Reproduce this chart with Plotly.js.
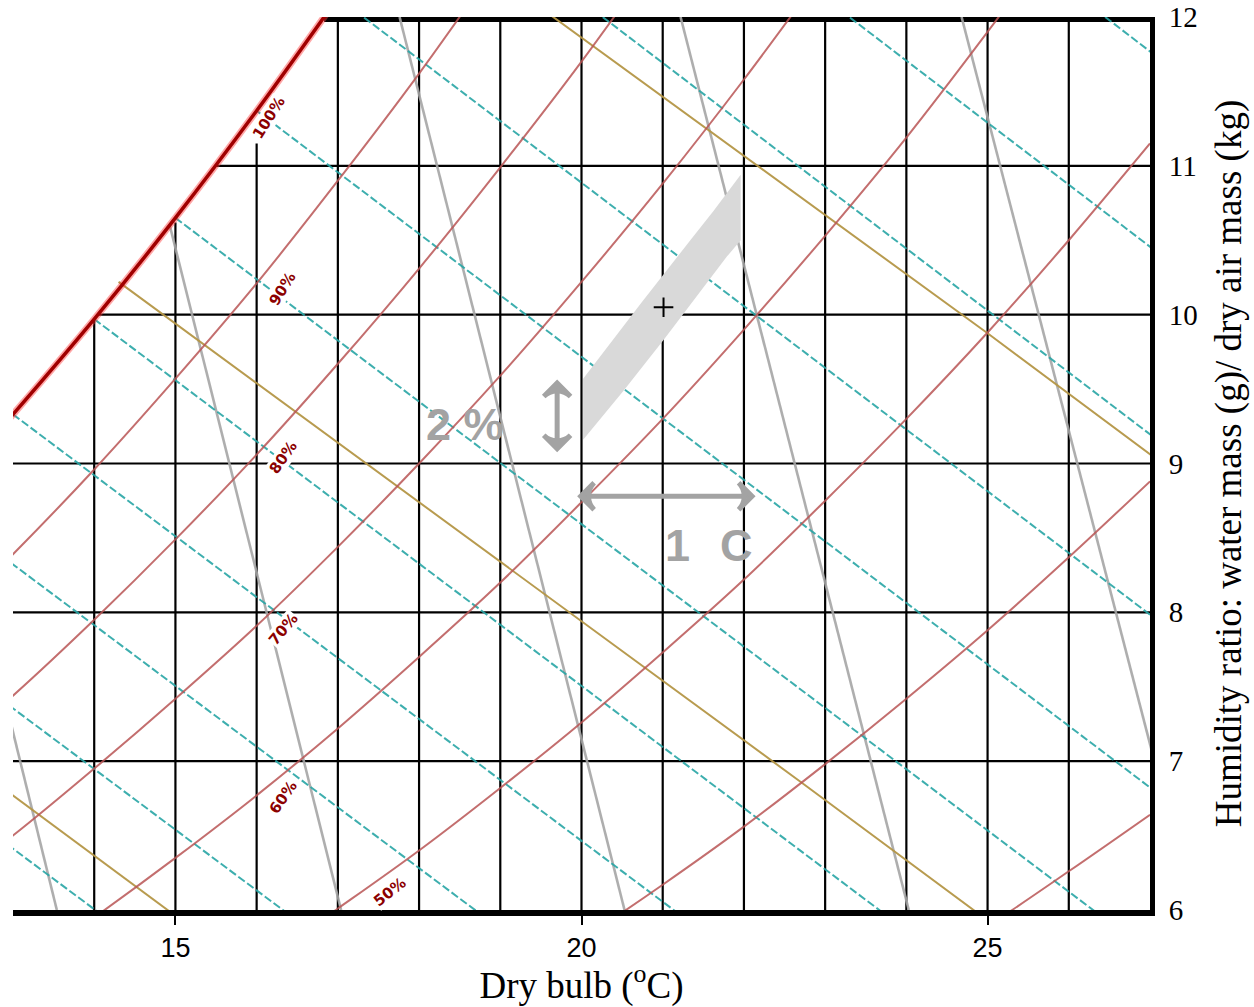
<!DOCTYPE html>
<html>
<head>
<meta charset="utf-8">
<script src="https://cdn.plot.ly/plotly-3.0.1.min.js"></script>
<style>html,body{margin:0;padding:0;background:#fff;}#chart{width:1254px;height:1007px;}</style>
</head>
<body>
<div id="chart"></div>
<script>
// ---- axis ticks ----
const T_TICKS = [15, 20, 25];
const W_TICKS = [6, 7, 8, 9, 10, 11, 12];

// ---- black grid (clipped at the saturation curve) ----
const GRID_V_T   = [14, 15, 16, 17, 18, 19, 20, 21, 22, 23, 24, 25, 26];
const GRID_V_TOP = [9.97, 10.62, 11.15, 12, 12, 12, 12, 12, 12, 12, 12, 12, 12];
const GRID_H_W     = [7, 8, 9, 10, 11];
const GRID_H_START = [13, 13, 13, 14.04, 15.49];
const TOP_EDGE_T = [16.83, 27];

// ---- saturation curve (100 %) ----
const SAT_T = [12.5, 13, 14, 15, 16, 17];
const SAT_W = [9.02, 9.33, 9.97, 10.65, 11.37, 12.13];

// ---- relative humidity curves ----
const RH90_T = [12, 13, 14, 15, 16, 17, 18, 19];
const RH90_W = [7.85, 8.39, 8.96, 9.57, 10.21, 10.90, 11.62, 12.39];
const RH80_T = [12, 13, 14, 15, 16, 17, 18, 19, 20, 21];
const RH80_W = [6.97, 7.44, 7.95, 8.49, 9.06, 9.67, 10.31, 10.99, 11.70, 12.46];
const RH70_T = [12, 13, 14, 15, 16, 17, 18, 19, 20, 21, 22, 23];
const RH70_W = [6.09, 6.50, 6.95, 7.42, 7.91, 8.44, 9.00, 9.59, 10.22, 10.88, 11.58, 12.32];
const RH60_T = [13, 14, 15, 16, 17, 18, 19, 20, 21, 22, 23, 24, 25, 26];
const RH60_W = [5.57, 5.95, 6.35, 6.77, 7.22, 7.70, 8.20, 8.74, 9.30, 9.90, 10.53, 11.19, 11.90, 12.64];
const RH50_T = [16, 17, 18, 19, 20, 21, 22, 23, 24, 25, 26, 27];
const RH50_W = [5.63, 6.01, 6.40, 6.82, 7.26, 7.73, 8.22, 8.75, 9.30, 9.88, 10.50, 11.15];
const RH40_T = [19, 20, 21, 22, 23, 24, 25, 26, 27];
const RH40_W = [5.45, 5.80, 6.17, 6.56, 6.98, 7.42, 7.88, 8.37, 8.88];
const RH30_T = [24, 25, 26, 27];
const RH30_W = [5.55, 5.89, 6.26, 6.64];

// ---- wet-bulb lines (cyan dashed), start on saturation, end at T=28 ----
const WB_T0 = [10, 11, 12, 13, 14, 15, 16, 17, 18, 19, 20];
const WB_W0 = [7.63, 8.17, 8.73, 9.33, 9.97, 10.65, 11.37, 12.13, 12.94, 13.79, 14.70];
const WB_T1 = [28, 28, 28, 28, 28, 28, 28, 28, 28, 28, 28];
const WB_W1 = [0.32, 1.24, 2.20, 3.19, 4.22, 5.30, 6.41, 7.57, 8.78, 10.04, 11.35];

// ---- enthalpy lines (olive) ----
const H30_T = [12.8, 15.2];
const H30_W = [6.85, 5.88];
const H40_T = [14.30, 22.70, 25.0];
const H40_W = [10.22, 6.86, 5.93];
const H50_T = [19.5, 22.70, 25.0, 27.2];
const H50_W = [12.06, 10.79, 9.875, 8.98];

// ---- specific volume lines (grey) ----
const V_BOT_T = [13.54, 17.04, 20.53, 24.03, 27.53];
const V_BOT_W = [6, 6, 6, 6, 6];
const V_TOP_T = [10.83, 14.93, 17.76, 21.22, 24.68];
const V_TOP_W = [12, 10.60, 12, 12, 12];

// ---- comfort zone (grey band) and design point ----
const ZONE_T = [20.02, 20.73, 21.34, 21.63, 21.96, 21.96, 21.79, 21.47, 21.01, 20.52, 20.02];
const ZONE_W = [9.57, 10.075, 10.50, 10.70, 10.94, 10.50, 10.39, 10.16, 9.83, 9.49, 9.16];
const POINT_T = [21.01];
const POINT_W = [10.05];

// ---- scale arrows ----
const ARROW_V_T = [19.70, 19.70];
const ARROW_V_W = [9.10, 9.54];
const ARROW_H_T = [19.99, 22.10];
const ARROW_H_W = [8.78, 8.78];

// ---- RH labels ----
const RH_LABELS = ['100%', '90%', '80%', '70%', '60%', '50%'];
const RH_LABEL_T = [16.15, 16.32, 16.32, 16.33, 16.33, 17.64];
const RH_LABEL_W = [11.32, 10.17, 9.04, 7.89, 6.76, 6.12];
const RH_LABEL_ANGLE = [-58, -58, -55, -50, -55, -38];

// ---- helper to join segments ----
function segs(xs0, ys0, xs1, ys1) {
  const x = [], y = [];
  for (let i = 0; i < xs0.length; i++) {
    x.push(xs0[i], xs1[i], null);
    y.push(ys0[i], ys1[i], null);
  }
  return {x, y};
}

const traces = [];
const noHover = {hoverinfo: 'skip', showlegend: false, mode: 'lines', type: 'scatter'};

// black grid
const gv = segs(GRID_V_T, GRID_V_T.map(() => 6), GRID_V_T, GRID_V_TOP);
traces.push(Object.assign({x: gv.x, y: gv.y, line: {color: '#000', width: 2.2}}, noHover));
const gh = segs(GRID_H_START, GRID_H_W, GRID_H_START.map(() => 27), GRID_H_W);
traces.push(Object.assign({x: gh.x, y: gh.y, line: {color: '#000', width: 2.2}}, noHover));
traces.push(Object.assign({x: TOP_EDGE_T, y: [12, 12], line: {color: '#000', width: 10}}, noHover));

// specific volume (grey)
const vv = segs(V_BOT_T, V_BOT_W, V_TOP_T, V_TOP_W);
traces.push(Object.assign({x: vv.x, y: vv.y, line: {color: 'rgba(165,165,165,0.9)', width: 2.6}}, noHover));

// wet bulb (cyan dashed)
const wb = segs(WB_T0, WB_W0, WB_T1, WB_W1);
traces.push(Object.assign({x: wb.x, y: wb.y, line: {color: 'rgba(40,165,165,0.9)', width: 2, dash: '8px,3px'}}, noHover));

// enthalpy (olive)
[[H30_T, H30_W], [H40_T, H40_W], [H50_T, H50_W]].forEach(p => {
  traces.push(Object.assign({x: p[0], y: p[1], line: {color: 'rgba(180,150,70,0.95)', width: 2}}, noHover));
});

// RH curves
[[RH90_T, RH90_W], [RH80_T, RH80_W], [RH70_T, RH70_W], [RH60_T, RH60_W],
 [RH50_T, RH50_W], [RH40_T, RH40_W], [RH30_T, RH30_W]].forEach(p => {
  traces.push(Object.assign({x: p[0], y: p[1], line: {color: 'rgba(185,85,85,0.85)', width: 2, shape: 'spline'}}, noHover));
});

// saturation curve
traces.push(Object.assign({x: SAT_T, y: SAT_W, line: {color: 'rgba(255,60,60,0.45)', width: 7, shape: 'spline'}}, noHover));
traces.push(Object.assign({x: SAT_T, y: SAT_W, line: {color: '#a00000', width: 3.5, shape: 'spline'}}, noHover));

// grey band
traces.push({x: ZONE_T, y: ZONE_W, type: 'scatter', mode: 'lines', fill: 'toself',
  fillcolor: '#d9d9d9', line: {width: 0, color: '#d9d9d9'}, hoverinfo: 'skip', showlegend: false});

// design point
traces.push({x: POINT_T, y: POINT_W, type: 'scatter', mode: 'markers',
  marker: {symbol: 'cross-thin', size: 14, line: {color: '#000', width: 2}}, hoverinfo: 'skip', showlegend: false});

// scale arrows (shaft + chevron heads)
const GREY = '#a3a3a3';
traces.push({x: ARROW_V_T, y: ARROW_V_W, type: 'scatter', mode: 'lines+markers', cliponaxis: false,
  line: {color: GREY, width: 5},
  marker: {symbol: 'arrow-wide-open', size: 19, angle: [180, 0], color: GREY, line: {color: GREY, width: 5}},
  hoverinfo: 'skip', showlegend: false});
traces.push({x: ARROW_H_T, y: ARROW_H_W, type: 'scatter', mode: 'lines+markers', cliponaxis: false,
  line: {color: GREY, width: 5},
  marker: {symbol: 'arrow-wide-open', size: 19, angle: [-90, 90], color: GREY, line: {color: GREY, width: 5}},
  hoverinfo: 'skip', showlegend: false});

const annotations = [];
for (let i = 0; i < RH_LABELS.length; i++) {
  annotations.push({x: RH_LABEL_T[i], y: RH_LABEL_W[i], xref: 'x', yref: 'y', text: '<b>' + RH_LABELS[i] + '</b>',
    showarrow: false, textangle: RH_LABEL_ANGLE[i], bgcolor: '#ffffff', borderpad: 0,
    font: {family: 'DejaVu Sans', size: 15, color: '#8b0000'}});
}
annotations.push({x: 18.56, y: 9.26, xref: 'x', yref: 'y', text: '<b>2 %</b>', showarrow: false,
  font: {family: 'Liberation Sans', size: 45, color: GREY}});
annotations.push({x: 21.18, y: 8.45, xref: 'x', yref: 'y', text: '<b>1</b>', showarrow: false,
  font: {family: 'Liberation Sans', size: 45, color: GREY}});
annotations.push({x: 21.91, y: 8.45, xref: 'x', yref: 'y', text: '<b>C</b>', showarrow: false,
  font: {family: 'Liberation Sans', size: 45, color: GREY}});

const layout = {
  width: 1254, height: 1007,
  margin: {l: 13, r: 104, t: 17, b: 97},
  paper_bgcolor: '#fff', plot_bgcolor: '#fff',
  showlegend: false,
  xaxis: {
    range: [13, 27], showgrid: false, zeroline: false,
    showline: true, linecolor: '#000', linewidth: 6,
    tickmode: 'array', tickvals: T_TICKS, ticktext: T_TICKS.map(String),
    ticks: 'outside', ticklen: 9, tickwidth: 2, tickcolor: '#000',
    tickfont: {family: 'Liberation Sans', size: 27, color: '#000'},
    title: {text: 'Dry bulb (<sup>o</sup>C)', font: {family: 'Liberation Serif', size: 37, color: '#000'}, standoff: 5},
    automargin: false, fixedrange: true
  },
  yaxis: {
    range: [6, 12], side: 'right', showgrid: false, zeroline: false,
    showline: true, linecolor: '#000', linewidth: 5,
    tickmode: 'array', tickvals: W_TICKS, ticktext: W_TICKS.map(String),
    ticks: 'outside', ticklen: 8, tickcolor: 'rgba(0,0,0,0)',
    tickfont: {family: 'Liberation Serif', size: 29, color: '#000'},
    title: {text: 'Humidity ratio: water mass (g)/ dry air mass (kg)', font: {family: 'Liberation Serif', size: 37, color: '#000'}, standoff: 20},
    automargin: false, fixedrange: true
  },
  annotations: annotations
};

Plotly.newPlot('chart', traces, layout, {displayModeBar: false, staticPlot: true});
</script>
</body>
</html>
